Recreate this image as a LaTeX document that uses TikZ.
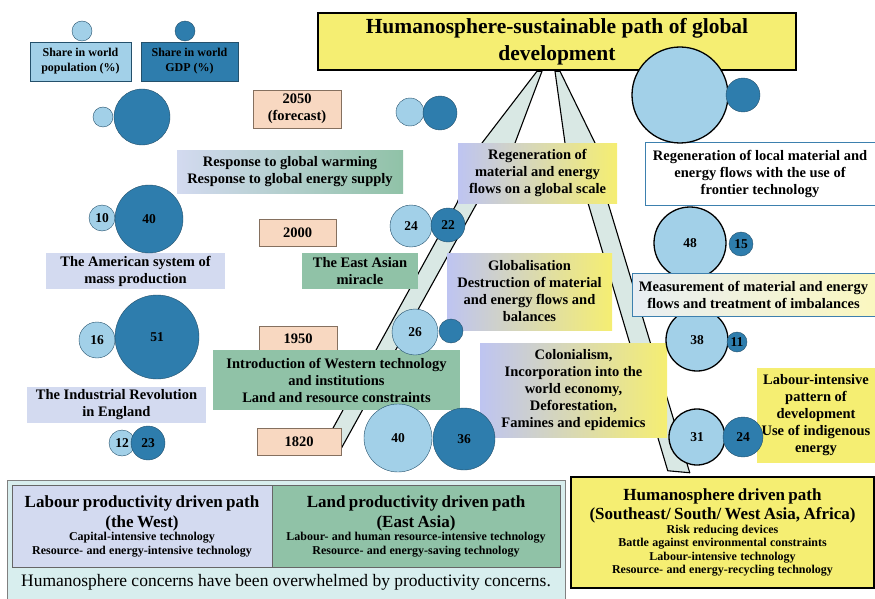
\documentclass[tikz,border=0pt]{standalone}
\usepackage{fontspec}
\setmainfont{Liberation Serif}
\usetikzlibrary{positioning}
\pgfdeclarelayer{bg}
\pgfsetlayers{bg,main}
\definecolor{PopBlue}{HTML}{A2D0E8}
\definecolor{GdpBlue}{HTML}{2E7DAD}
\definecolor{CircEdge}{HTML}{24506B}
\definecolor{PeachBox}{HTML}{F8D8C1}
\definecolor{PeachEdge}{HTML}{85705F}
\definecolor{Lavender}{HTML}{D3DAF0}
\definecolor{Sage}{HTML}{90C2A7}
\definecolor{PathYellow}{HTML}{F5EE72}
\definecolor{FrameBlue}{HTML}{3D80AE}
\definecolor{BandFill}{HTML}{D9E8E4}
\definecolor{StripCyan}{HTML}{D8EEEE}
\definecolor{PaleSky}{HTML}{E8EEF4}

\begin{document}
\begin{tikzpicture}[x=1pt, y=-1pt,
  txt/.style={font=\fontsize{14.5}{17}\selectfont\bfseries, align=center, inner sep=2pt},
  legend/.style={draw=CircEdge, font=\fontsize{12}{15}\selectfont\bfseries, align=center, inner sep=2pt, minimum height=39pt},
  year/.style={txt, draw=PeachEdge, fill=PeachBox},
  era/.style={txt, fill=Lavender},
  east/.style={txt, fill=Sage},
  stagebox/.style={txt, left color=Lavender!90!blue, right color=PathYellow},
  local/.style={txt, draw=FrameBlue, thick},
  pathbox/.style={align=center, font=\bfseries, inner sep=3pt},
  popc/.style={circle, draw=CircEdge, fill=PopBlue, inner sep=0pt, font=\fontsize{13.5}{14}\selectfont\bfseries},
  gdpc/.style={circle, draw=CircEdge, fill=GdpBlue, inner sep=0pt, font=\fontsize{13.5}{14}\selectfont\bfseries},
  humc/.style={popc, draw=black, line width=1.3pt},
  band/.style={draw=black, fill=BandFill, line width=1.1pt, line join=round}
]
\useasboundingbox (0,0) rectangle (875,599);

\node[txt, draw=black, line width=2.5pt, fill=PathYellow, font=\fontsize{21.5}{27}\selectfont\bfseries, minimum width=478pt, minimum height=57pt] (title) at (557,41.5) {Humanosphere-sustainable path of global\\development};

\node[legend, fill=PopBlue, minimum width=101pt] (popleg) at (80.5,61.5) {Share in world\\population (\%)};
\node[legend, fill=GdpBlue, minimum width=97pt] (gdpleg) at (189.5,61.5) {Share in world\\GDP (\%)};

\node[year, minimum width=88pt, minimum height=38pt] (y2050) at (297,109) {2050\\(forecast)};
\node[year, minimum width=77pt, minimum height=27pt] (y2000) at (297.5,232.5) {2000};
\node[year, minimum width=78pt, minimum height=26pt] (y1950) at (298,339) {1950};
\node[year, minimum width=84pt, minimum height=27pt] (y1820) at (299,441.5) {1820};

\node[txt, left color=Lavender, right color=Sage, minimum width=226pt, minimum height=43pt] (response) at (290,171.5) {Response to global warming\\Response to global energy supply};
\node[era, minimum width=179pt, minimum height=36pt] (american) at (135.5,271) {The American system of\\mass production};
\node[era, minimum width=179pt, minimum height=36pt] (industrial) at (116.5,405) {The Industrial Revolution\\in England};
\node[east, minimum width=116pt, minimum height=36pt] (eastasian) at (360,271) {The East Asian\\miracle};
\node[east, minimum width=247pt, minimum height=60pt] (western) at (336.5,380) {Introduction of Western technology\\and institutions\\Land and resource constraints};

\node[stagebox, minimum width=159pt, minimum height=60pt] (regglobal) at (537.5,173) {Regeneration of\\material and energy\\flows on a global scale};
\node[stagebox, minimum width=165pt, minimum height=77pt] (globalisation) at (529.5,291.5) {Globalisation\\Destruction of material\\and energy flows and\\balances};
\node[stagebox, minimum width=187pt, minimum height=94pt] (colonialism) at (573.5,390) {Colonialism,\\Incorporation into the\\world economy,\\Deforestation,\\Famines and epidemics};

\node[local, fill=white, minimum width=230pt, minimum height=63pt] (reglocal) at (760,173.5) {Regeneration of local material and\\energy flows with the use of\\frontier technology};
\node[txt, fill=PathYellow, minimum width=118pt, minimum height=95pt] (labourint) at (816,415.5) {Labour-intensive\\pattern of\\development\\Use of indigenous\\energy};

\node[pathbox, draw=black, line width=2.5pt, fill=PathYellow, text width=297pt, minimum height=111pt] (humdriven) at (722.5,532.5) {{\fontsize{17}{19}\selectfont Humanosphere driven path\\(Southeast/ South/ West Asia, Africa)\par}
  {\fontsize{12}{13.5}\selectfont Risk reducing devices\\Battle against environmental constraints\\Labour-intensive technology\\Resource- and energy-recycling technology\par}};

\coordinate (lb1) at (482,143);
\coordinate (lb2) at (457,203);
\coordinate (lb3) at (477,203);
\coordinate (lb4) at (515,143);
\coordinate (rb1) at (565,143);
\coordinate (rb2) at (588,203);
\coordinate (rb3) at (608,203);
\coordinate (rb4) at (595,143);
\begin{pgfonlayer}{bg}
\draw[band] ([xshift=-20pt]title.south) -- (lb1) -- (lb2) -- ([xshift=-8pt]y1820.north east) -- ([yshift=-7pt]y1820.east) -- (lb3) -- (lb4) -- ([xshift=-15pt]title.south) -- cycle;
\draw[band] ([xshift=-2pt]title.south) -- (rb1) -- (rb2) -- ([xshift=98pt,yshift=5pt]humdriven.north west) -- ([xshift=120pt,yshift=3pt]humdriven.north west) -- (rb3) -- (rb4) -- ([xshift=3pt]title.south) -- cycle;
\end{pgfonlayer}

\node[draw=gray, fill=StripCyan, minimum width=558pt, minimum height=119pt] (westbox) at (286,539.5) {};
\node[pathbox, draw=gray!80!black, fill=Lavender, text width=254pt, minimum height=82pt] (labourpath) at (142,526) {{\fontsize{17}{20}\selectfont Labour productivity driven path\\(the West)\par}
  {\fontsize{12}{13.5}\selectfont Capital-intensive technology\\Resource- and energy-intensive technology\par}};
\node[pathbox, draw=gray!80!black, fill=Sage, text width=282pt, minimum height=82pt] (landpath) at (416,526) {{\fontsize{17}{20}\selectfont Land productivity driven path\\(East Asia)\par}
  {\fontsize{12}{13.5}\selectfont Labour- and human resource-intensive technology\\Resource- and energy-saving technology\par}};
\node[font=\fontsize{17.5}{19}\selectfont] (concerns) at (286,582) {Humanosphere concerns have been overwhelmed by productivity concerns.};

\node[popc, minimum size=20pt] (legpop) at (82,31) {};
\node[gdpc, minimum size=20pt] (leggdp) at (185,31) {};

\node[popc, minimum size=20pt] (w2050p) at (103,117) {};
\node[gdpc, minimum size=56pt] (w2050g) at (142,117) {};
\node[popc, minimum size=26pt] (w2000p) at (102,218) {10};
\node[gdpc, minimum size=68pt] (w2000g) at (149,219) {40};
\node[popc, minimum size=36pt] (w1950p) at (97,340) {16};
\node[gdpc, minimum size=84pt] (w1950g) at (157,337) {51};
\node[popc, minimum size=26pt] (w1820p) at (122,443) {12};
\node[gdpc, minimum size=34pt] (w1820g) at (148,443) {23};

\node[popc, minimum size=28pt] (e2050p) at (410,112) {};
\node[gdpc, minimum size=34pt] (e2050g) at (440,113) {};
\node[popc, minimum size=42pt] (e2000p) at (411,226) {24};
\node[gdpc, minimum size=34pt] (e2000g) at (448,225) {22};
\node[popc, minimum size=46pt] (e1950p) at (415,332) {26};
\node[gdpc, minimum size=24pt] (e1950g) at (451,331) {};
\node[popc, minimum size=68pt] (e1820p) at (398,438) {40};
\node[gdpc, minimum size=62pt] (e1820g) at (464,439) {36};

\node[humc, minimum size=96pt] (h2050p) at (680,95) {};
\node[gdpc, minimum size=34pt] (h2050g) at (743,95) {};
\node[humc, minimum size=72pt] (h2000p) at (690,243) {48};
\node[gdpc, minimum size=24pt] (h2000g) at (741,244) {15};
\node[humc, minimum size=62pt] (h1950p) at (697,340) {38};
\node[gdpc, minimum size=20pt] (h1950g) at (737,342) {11};
\node[humc, minimum size=56pt] (h1820p) at (697,437) {31};
\node[gdpc, minimum size=40pt] (h1820g) at (743,437) {24};

\node[local, left color=PaleSky, right color=PathYellow!45!white, minimum width=243pt, minimum height=43pt] (measurement) at (753.5,294.5) {Measurement of material and energy\\flows and treatment of imbalances};
\end{tikzpicture}
\end{document}
